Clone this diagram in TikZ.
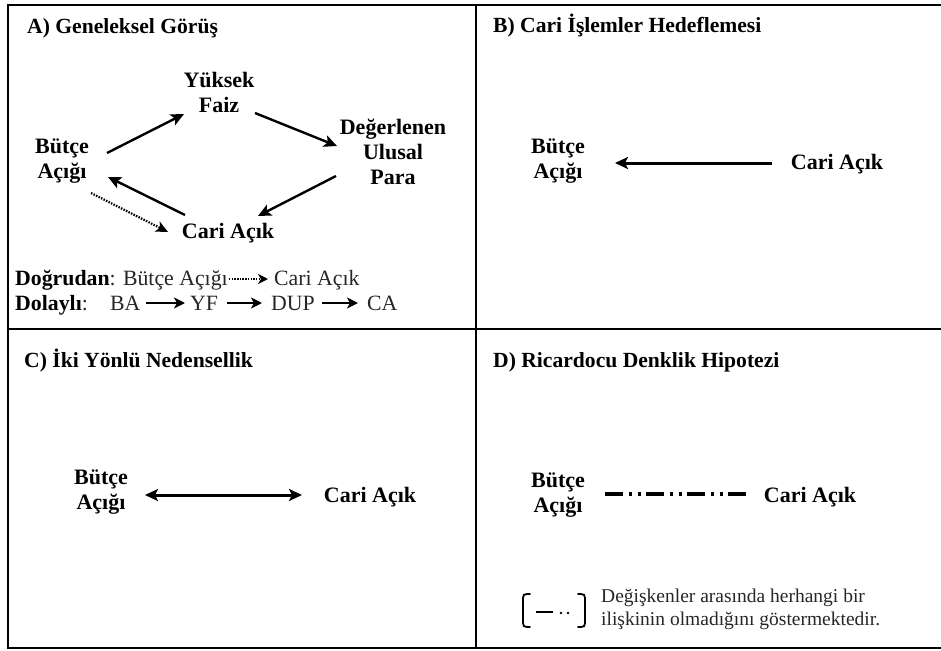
\documentclass[tikz,border=0pt]{standalone}
\usepackage{fontspec}
\setmainfont{Liberation Serif}
\usetikzlibrary{arrows.meta,calc}
\begin{document}
\begin{tikzpicture}[x=1pt,y=-1pt,
  lbl/.style={font=\bfseries\fontsize{22}{25}\selectfont, align=center, inner sep=0pt},
  ttl/.style={font=\bfseries\fontsize{21.6}{24}\selectfont, anchor=base west, inner sep=0pt},
  reg/.style={font=\fontsize{21.8}{25}\selectfont, anchor=base west, inner sep=0pt, text=black!85},
  arr/.style={-{Stealth[length=13pt,width=12pt,inset=3pt]}, line width=2.4pt},
  dotarr/.style={-{Stealth[length=12pt,width=11pt,inset=3pt]}, line width=2.2pt, dash pattern=on 1.5pt off 1.3pt},
  sarr/.style={-{Stealth[length=11pt,width=11pt,inset=3pt]}, line width=2.6pt},
  sdot/.style={-{Stealth[length=10pt,width=10pt,inset=3pt]}, line width=2.4pt, dash pattern=on 1.5pt off 1.2pt},
  barr/.style={-{Stealth[length=13pt,width=12pt,inset=3pt]}, line width=3pt},
  ddash/.style={line width=3.5pt, dash pattern=on 18pt off 6pt on 3pt off 5.5pt on 3pt off 5.5pt},
  frame/.style={line width=2.2pt},
  brk/.style={line width=1.8pt, line cap=round}]
\useasboundingbox (0,0) rectangle (941,650);
\fill[white] (0,0) rectangle (941,650);
% frame
\draw[frame] (945,5) -- (8,5) -- (8,648) -- (945,648);
\draw[frame] (476,5) -- (476,648);
\draw[frame] (8,329) -- (945,329);
% titles
\node[ttl] (ta) at (27,34) {A) Geneleksel Görüş};
\node[ttl] (tb) at (493,33) {B) Cari İşlemler Hedeflemesi};
\node[ttl] (tc) at (24,367) {C) İki Yönlü Nedensellik};
\node[ttl] (td) at (493,367) {D) Ricardocu Denklik Hipotezi};
% panel A
\node[lbl] (yf) at (219,92) {Yüksek\\Faiz};
\node[lbl] (ba) at (62,161) {Bütçe\\Açığı};
\node[lbl] (dup) at (393,152) {Değerlenen\\Ulusal\\Para};
\node[lbl] (ca) at (228,233) {Cari Açık};
\draw[arr] ($(ba)+(45,-8)$) -- ($(yf)+(-35,22)$);
\draw[arr] ($(yf)+(36,21)$) -- ($(dup)+(-56,-6)$);
\draw[arr] ($(dup)+(-57,24)$) -- ($(ca)+(30,-17)$);
\draw[arr] ($(ca)+(-43,-18)$) -- ($(ba)+(46,16)$);
\draw[dotarr] ($(ba)+(29,32)$) -- ($(ca)+(-60,-1)$);
% legend A
\node[reg] (d1) at (15,285) {\textbf{\color{black}Doğrudan}: Bütçe Açığı};
\node[reg] (d2) at (274,285) {Cari Açık};
\draw[sdot] ($(d1.base east)+(1,-6)$) -- ($(d2.base west)+(-6,-6)$);
\node[reg] (l2) at (15,310) {\textbf{\color{black}Dolaylı}:};
\node[reg] (n1) at (110,310) {BA};
\node[reg] (n2) at (190,310) {YF};
\node[reg] (n3) at (271,310) {DUP};
\node[reg] (n4) at (367,310) {CA};
\draw[sarr] ($(n1.base east)+(5,-7)$) -- ($(n2.base west)+(-5,-7)$);
\draw[sarr] ($(n2.base east)+(9,-7)$) -- ($(n3.base west)+(-9,-7)$);
\draw[sarr] ($(n3.base east)+(7,-7)$) -- ($(n4.base west)+(-9,-7)$);
% panel B
\node[lbl] (bab) at (558,161) {Bütçe\\Açığı};
\node[lbl] (cab) at (837,164) {Cari Açık};
\draw[barr] ($(cab)+(-65,-1)$) -- ($(bab)+(57,2)$);
% panel C
\node[lbl] (bac) at (101,492) {Bütçe\\Açığı};
\node[lbl] (cac) at (370,497) {Cari Açık};
\draw[barr, {Stealth[length=13pt,width=12pt,inset=3pt]}-{Stealth[length=13pt,width=12pt,inset=3pt]}] ($(bac)+(44,3)$) -- ($(cac)+(-68,-2)$);
% panel D
\node[lbl] (bad) at (558,495) {Bütçe\\Açığı};
\node[lbl] (cad) at (810,497) {Cari Açık};
\draw[ddash] ($(bad)+(47,-1)$) -- ($(cad)+(-63,-3)$);
% legend D
\draw[brk] (530,594) -- (527,594) .. controls (524,594) and (523,595) .. (523,598) -- (523,623) .. controls (523,626) and (524,627) .. (527,627) -- (530,627);
\draw[brk] (578,594) -- (581,594) .. controls (584,594) and (585,595) .. (585,598) -- (585,623) .. controls (585,626) and (584,627) .. (581,627) -- (578,627);
\draw[line width=2.5pt] (536,612) -- (553,612);
\fill (561,613) circle (1.3);
\fill (568,613) circle (1.3);
\node[font=\fontsize{19.5}{23}\selectfont, align=left, anchor=west, inner sep=0pt, text=black!85] (leg) at (601,609) {Değişkenler arasında herhangi bir\\ilişkinin olmadığını göstermektedir.};
\end{tikzpicture}
\end{document}
